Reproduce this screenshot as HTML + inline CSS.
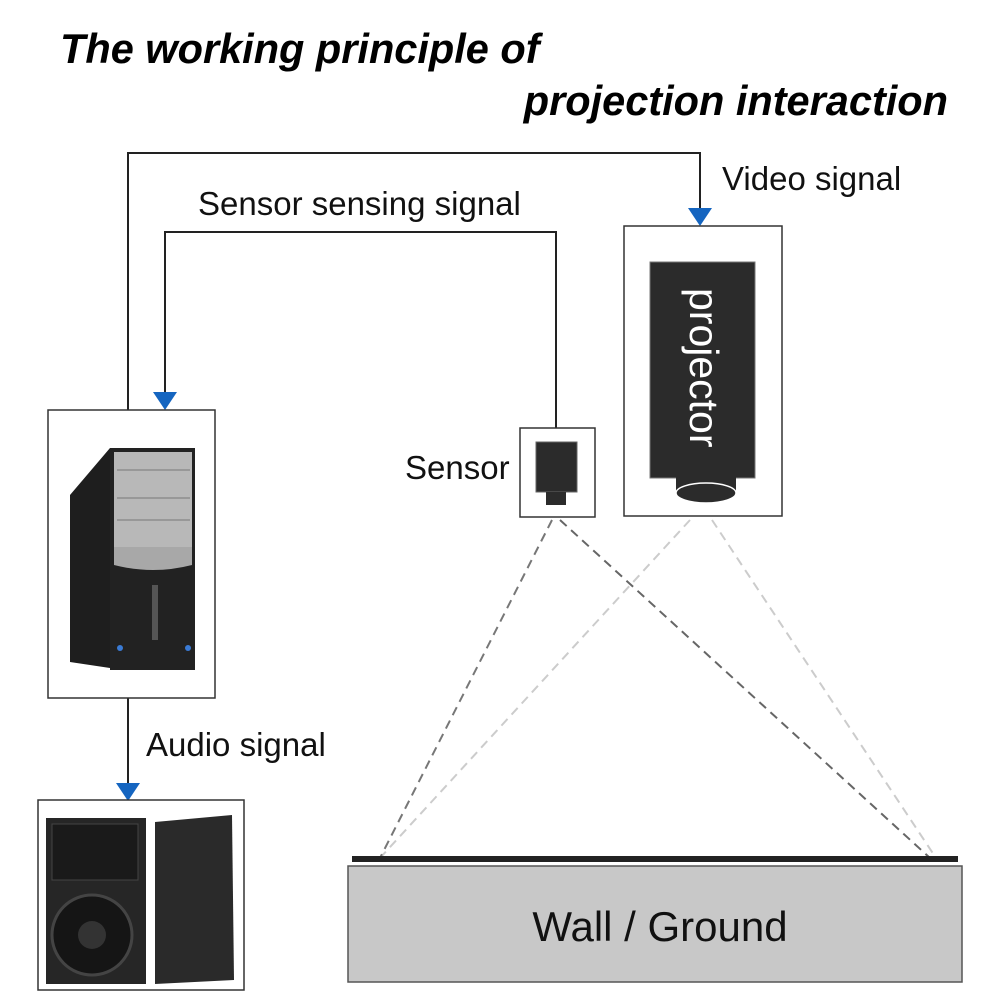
<!DOCTYPE html>
<html><head><style>body{margin:0;background:#fff}svg{display:block}</style></head><body>
<svg width="1000" height="1000" viewBox="0 0 1000 1000" xmlns="http://www.w3.org/2000/svg" font-family="Liberation Sans, sans-serif">
<rect width="1000" height="1000" fill="#fff"/>
<text x="60" y="63" font-size="41.5" font-weight="bold" font-style="italic" fill="#000">The working principle of</text>
<text x="948" y="115" font-size="41.5" font-weight="bold" font-style="italic" fill="#000" text-anchor="end">projection interaction</text>
<g stroke="#222" stroke-width="2" fill="none">
<polyline points="128,410 128,153 700,153 700,212"/>
<polyline points="556,428 556,232 165,232 165,395"/>
<line x1="128" y1="698" x2="128" y2="785"/>
</g>
<g fill="#1565c0">
<polygon points="688,208 712,208 700,226"/>
<polygon points="153,392 177,392 165,410"/>
<polygon points="116,783 140,783 128,801"/>
</g>
<g font-size="33" fill="#111">
<text x="722" y="190">Video signal</text>
<text x="198" y="215">Sensor sensing signal</text>
<text x="405" y="479">Sensor</text>
<text x="146" y="756">Audio signal</text>
</g>
<g fill="none" stroke-width="2" stroke-dasharray="9,6">
<line x1="690" y1="520" x2="380" y2="858" stroke="#ccc"/>
<line x1="712" y1="520" x2="936" y2="858" stroke="#ccc"/>
<line x1="552" y1="520" x2="380" y2="858" stroke="#777"/>
<line x1="560" y1="520" x2="930" y2="858" stroke="#666"/>
</g>
<rect x="48" y="410" width="167" height="288" fill="#fff" stroke="#333" stroke-width="1.5"/>
<polygon points="70,495 110,448 110,668 70,662" fill="#1e1e1e"/>
<rect x="110" y="448" width="85" height="222" fill="#222"/>
<rect x="114" y="452" width="78" height="95" fill="#b8b8b8"/>
<g stroke="#777" stroke-width="1"><line x1="117" y1="470" x2="190" y2="470"/><line x1="117" y1="498" x2="190" y2="498"/><line x1="117" y1="520" x2="190" y2="520"/></g>
<path d="M114,547 H192 V565 Q153,575 114,565Z" fill="#a8a8a8"/>
<rect x="152" y="585" width="6" height="55" fill="#555"/>
<circle cx="120" cy="648" r="3" fill="#3a7bd5"/><circle cx="188" cy="648" r="3" fill="#3a7bd5"/>
<rect x="38" y="800" width="206" height="190" fill="#fff" stroke="#333" stroke-width="1.5"/>
<rect x="46" y="818" width="100" height="166" fill="#262626"/>
<rect x="52" y="824" width="86" height="56" fill="#1a1a1a" stroke="#444"/>
<circle cx="92" cy="935" r="40" fill="#151515" stroke="#444" stroke-width="3"/>
<circle cx="92" cy="935" r="14" fill="#333"/>
<polygon points="155,822 232,815 234,980 155,984" fill="#2a2a2a"/>
<rect x="520" y="428" width="75" height="89" fill="#fff" stroke="#333" stroke-width="1.5"/>
<rect x="536" y="442" width="41" height="50" fill="#2b2b2b" stroke="#666"/>
<rect x="546" y="492" width="20" height="13" fill="#2b2b2b"/>
<rect x="624" y="226" width="158" height="290" fill="#fff" stroke="#333" stroke-width="1.5"/>
<rect x="650" y="262" width="105" height="216" fill="#2b2b2b" stroke="#777"/>
<rect x="676" y="476" width="60" height="16" fill="#2b2b2b"/>
<ellipse cx="706" cy="493" rx="30" ry="10" fill="#2b2b2b" stroke="#fff" stroke-width="1.5"/>
<text transform="translate(690,288) rotate(90)" font-size="41" fill="#fff">projector</text>
<rect x="352" y="856" width="606" height="6" fill="#222"/>
<rect x="348" y="866" width="614" height="116" fill="#c8c8c8" stroke="#555" stroke-width="1.5"/>
<text x="660" y="941" font-size="42" fill="#111" text-anchor="middle">Wall / Ground</text>
</svg>
</body></html>
